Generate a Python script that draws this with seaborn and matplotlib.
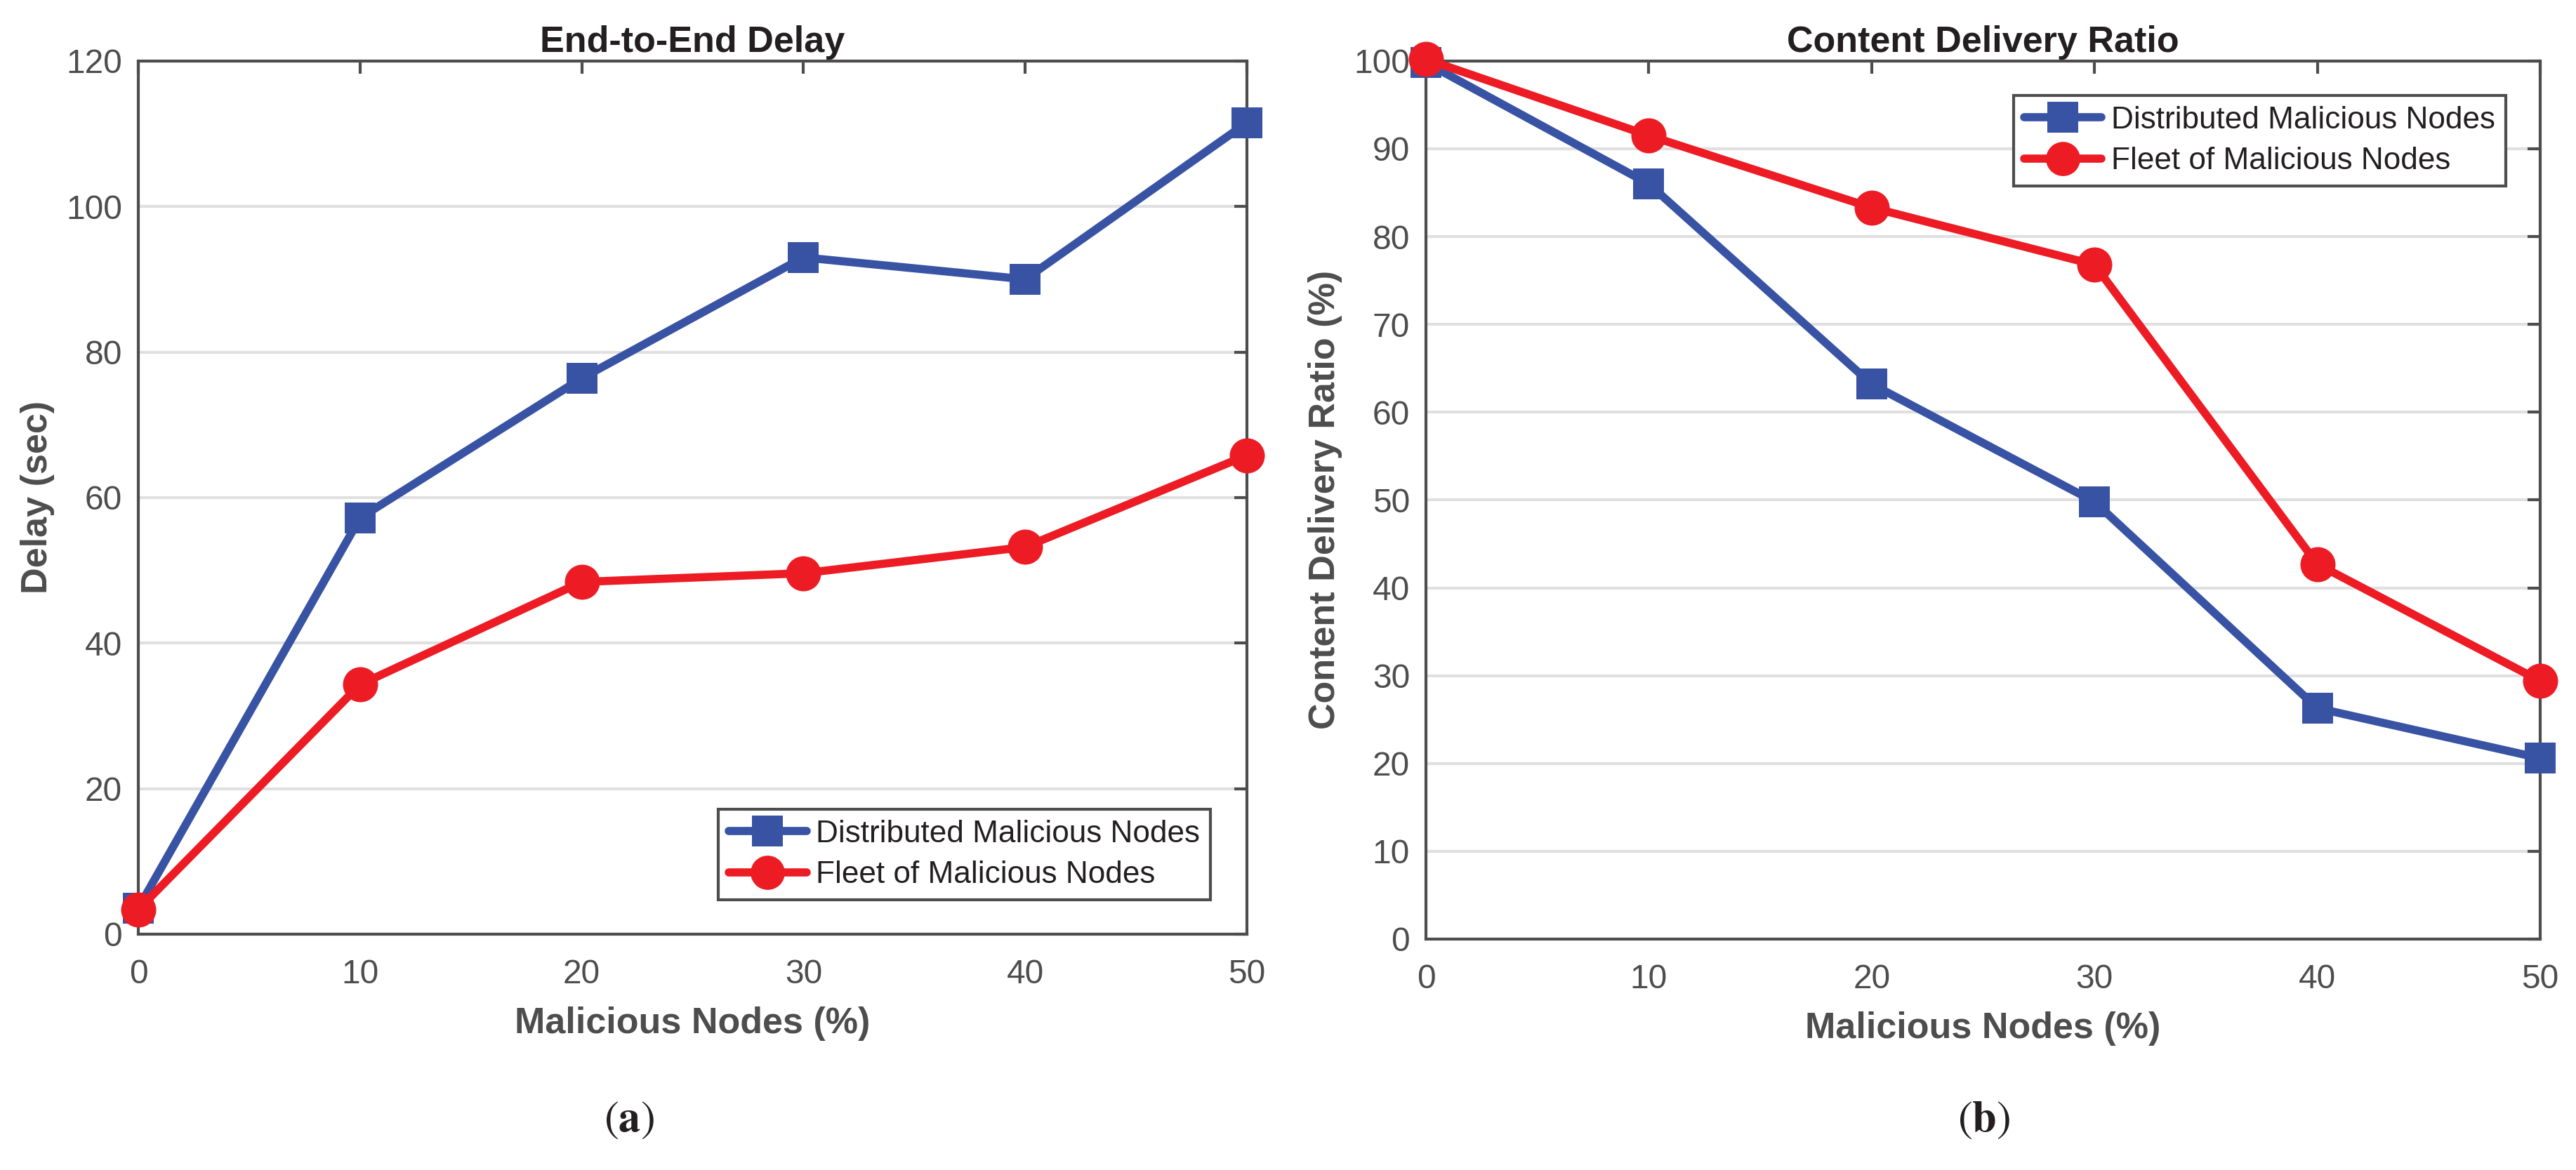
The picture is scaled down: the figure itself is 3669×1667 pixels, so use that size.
import pandas as pd
import seaborn as sns
import matplotlib.pyplot as plt
import numpy as np

nodes = [0, 10, 20, 30, 40, 50]
series_names = ["Distributed Malicious Nodes", "Fleet of Malicious Nodes"]

delay_distributed = [3.6, 57.2, 76.4, 93.0, 90.0, 111.5]
delay_fleet = [3.4, 34.3, 48.4, 49.6, 53.2, 65.8]

cdr_distributed = [99.8, 86.0, 63.2, 49.8, 26.3, 20.6]
cdr_fleet = [100.2, 91.5, 83.3, 76.8, 42.7, 29.4]

delay_df = pd.DataFrame({
    "x": nodes * 2,
    "y": delay_distributed + delay_fleet,
    "series": [series_names[0]] * 6 + [series_names[1]] * 6,
})
cdr_df = pd.DataFrame({
    "x": nodes * 2,
    "y": cdr_distributed + cdr_fleet,
    "series": [series_names[0]] * 6 + [series_names[1]] * 6,
})

sns.set_style("white")
plt.rcParams['font.family'] = ['Liberation Sans', 'DejaVu Sans']
plt.rcParams['mathtext.fontset'] = 'stix'

palette = {series_names[0]: "#3953a4", series_names[1]: "#ed1c24"}
markers = {series_names[0]: "s", series_names[1]: "o"}
axis_gray = "#4d4d4d"
text_dark = "#231f20"

fig = plt.figure(figsize=(3670 / 300, 1667 / 300), dpi=300)
ax1 = fig.add_axes([0.0537, 0.2016, 0.4302, 0.7463])
ax2 = fig.add_axes([0.5534, 0.1974, 0.4324, 0.7505])


def style_axis(ax, ylim, yticks, title, ylabel):
    ax.set_xlim(0, 50)
    ax.set_ylim(*ylim)
    ax.set_xticks(nodes)
    ax.set_yticks(yticks)
    ax.yaxis.grid(True, color="#e0e0e0", linewidth=1.0)
    ax.xaxis.grid(False)
    ax.set_axisbelow(True)
    for sp in ax.spines.values():
        sp.set_visible(True)
        sp.set_color(axis_gray)
        sp.set_linewidth(1.0)
    ax.tick_params(direction="in", length=4.4, width=1.0, color=axis_gray,
                   top=True, right=True, labelsize=11.5, labelcolor=axis_gray)
    ax.tick_params(axis="x", pad=8.5)
    ax.tick_params(axis="y", pad=5.5)
    ax.set_title(title, fontsize=12.5, fontweight="bold", color=text_dark, pad=3)
    ax.set_xlabel("Malicious Nodes (%)", fontsize=12.5, fontweight="bold",
                  color=axis_gray, labelpad=5.5)
    ax.set_ylabel(ylabel, fontsize=12.5, fontweight="bold", color=axis_gray, labelpad=4)


for ax, df in [(ax1, delay_df), (ax2, cdr_df)]:
    sns.lineplot(data=df, x="x", y="y", hue="series", style="series",
                 palette=palette, markers=markers, dashes=False,
                 linewidth=2.8, markeredgewidth=0,
                 ax=ax, clip_on=False, zorder=3)
    for line in ax.get_lines():
        line.set_markersize(10.6 if line.get_marker() == "s" else 12)

style_axis(ax1, (0, 120), np.arange(0, 121, 20), "End-to-End Delay", "Delay (sec)")
style_axis(ax2, (0, 100), np.arange(0, 101, 10), "Content Delivery Ratio",
           "Content Delivery Ratio (%)")

for ax, loc, anchor in [(ax1, "lower right", (0.967, 0.039)), (ax2, "upper right", (0.969, 0.961))]:
    leg = ax.legend(loc=loc, bbox_to_anchor=anchor, fancybox=False, framealpha=1,
                    edgecolor=axis_gray, borderpad=0.34, handlelength=2.5,
                    labelspacing=0.4, handletextpad=0.3, borderaxespad=0,
                    prop={'size': 10.6})
    leg.get_frame().set_linewidth(1.0)
    for t in leg.get_texts():
        t.set_color(text_dark)
    for h in leg.legend_handles:
        h.set_markersize(10.6 if h.get_marker() == "s" else 11.7)
        h.set_linewidth(2.8)

for xpos, letter in [(0.244, "a"), (0.770, "b")]:
    fig.text(xpos, 0.043, r"$(\mathbf{" + letter + "})$", ha="center", va="center",
             fontsize=15, color=text_dark)

fig.savefig("out.png", dpi=300)
